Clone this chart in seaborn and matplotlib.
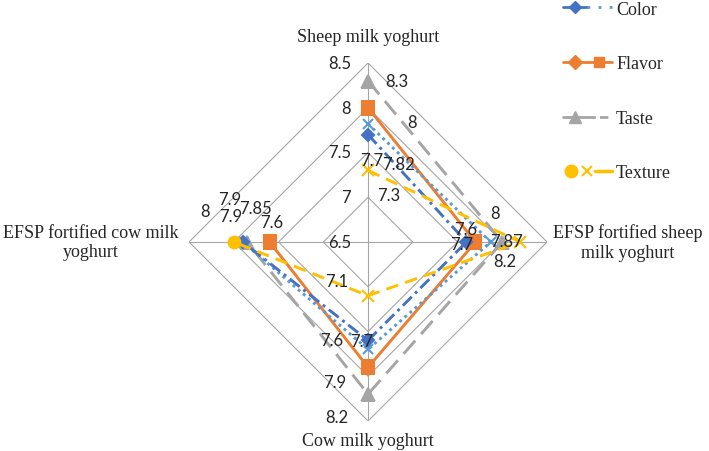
import numpy as np
import matplotlib.pyplot as plt
from matplotlib.lines import Line2D
from matplotlib.legend_handler import HandlerTuple
import seaborn as sns

# axes go clockwise from the top
categories = ["Sheep milk yoghurt", "EFSP fortified sheep\nmilk yoghurt",
              "Cow milk yoghurt", "EFSP fortified cow milk\nyoghurt"]
color_a = [7.7, 7.6, 7.6, 7.9]
color_b = [7.82, 7.87, 7.7, 7.9]
flavor = [8.0, 7.7, 7.9, 7.6]
taste = [8.3, 8.0, 8.2, 7.85]
texture = [7.3, 8.2, 7.1, 8.0]
levels = [6.5, 7, 7.5, 8, 8.5]
legend_labels = ["Color", "Flavor", "Taste", "Texture"]

sns.set_style("white")
plt.rcParams["font.family"] = ["Liberation Serif", "DejaVu Serif"]
NUM_FONT = "Lato"

BLUE, LBLUE, ORANGE, GREY, YELLOW = "#4472C4", "#5B9BD5", "#ED7D31", "#A5A5A5", "#FFC000"
GRID = "#A6A6A6"

fig = plt.figure(figsize=(7.09, 4.52), dpi=100)
ax = fig.add_axes([0.2666, 0.0664, 0.505, 0.792], projection="polar")
ax.set_theta_zero_location("N")
ax.set_theta_direction(-1)

theta = np.deg2rad([0, 90, 180, 270])
th = np.append(theta, theta[0])

def closed(v):
    return np.append(v, v[0])

# diamond grid and spokes
for lvl in levels:
    ax.plot(th, [lvl] * len(th), color=GRID, lw=0.8, zorder=1)
for a in theta:
    ax.plot([a, a], [levels[0], levels[-1]], color=GRID, lw=0.8, zorder=1)

# series styles and label offsets (pixels) for each axis point
series = [
    (taste, GREY, (0, (6, 3)), "^", 8,
     [(29, 0), (-7, 29), (-31, -23), (8, 34)]),
    (flavor, ORANGE, "-", "s", 8,
     [(44, -14), (-14, -2), (-33, -15), (2, 20)]),
    (color_b, LBLUE, (0, (1, 1.3)), "x", 7,
     [(30, -40), (16, 1), (-6, 8), (-12, 26)]),
    (color_a, BLUE, (0, (4.3, 1.6, 1, 1.6)), "D", 6.5,
     [(4, -25), (-1, 13), (-36, 0), (-13, 43)]),
    (texture, YELLOW, (0, (4.3, 2.5)), "x", 8,
     [(21, -25), (-15, -19), (-31, 15), (-29, 31)]),
]

for vals, c, ls, m, ms, offs in series:
    every = [0, 1, 2] if vals is texture else None
    sns.lineplot(x=th, y=closed(vals), sort=False, ax=ax, color=c,
                 linestyle=ls, lw=2.1, marker=m, markersize=ms,
                 markeredgecolor=c, markerfacecolor=c, markeredgewidth=1.5,
                 markevery=every, zorder=3)
    for a, v, off in zip(theta, vals, offs):
        ax.annotate(f"{v:g}", xy=(a, v), xytext=off, textcoords="offset pixels",
                    ha="center", va="center", fontsize=12, family=NUM_FONT,
                    zorder=5)

# texture point on the left axis uses a round marker
ax.plot(theta[3:4], texture[3:4], marker="o", ms=9, color=YELLOW, ls="none", zorder=4)

# radial scale labels along the top axis
for lvl in levels:
    ax.annotate(f"{lvl:g}", xy=(0, lvl), xytext=(-17, 0), textcoords="offset pixels",
                ha="right", va="center", fontsize=12, family=NUM_FONT)

# category labels
cat_offsets = [(0, 27), (81, 0), (0, -20), (-98, 0)]
for a, name, off in zip(theta, categories, cat_offsets):
    ax.annotate(name, xy=(a, levels[-1]), xytext=off, textcoords="offset pixels",
                ha="center", va="center", fontsize=13, multialignment="center",
                annotation_clip=False)

ax.set_ylim(levels[0], levels[-1])
ax.set_xticks([])
ax.set_yticks([])
ax.grid(False)
ax.spines["polar"].set_visible(False)
ax.set_xlabel("")
ax.set_ylabel("")
ax.patch.set_alpha(0)

handles = [
    (Line2D([], [], color=BLUE, lw=2, marker="D", ms=6),
     Line2D([], [], color=LBLUE, lw=2, ls=(0, (1, 3)))),
    (Line2D([], [], color=ORANGE, lw=2, marker="D", ms=7),
     Line2D([], [], color=ORANGE, lw=2, marker="s", ms=7)),
    (Line2D([], [], color=GREY, lw=2, marker="^", ms=8),
     Line2D([], [], color=GREY, lw=2, ls=(0, (3, 1.5)))),
    (Line2D([], [], color=YELLOW, lw=0, marker="o", ms=9),
     Line2D([], [], color=YELLOW, lw=0, marker="x", ms=7, mew=1.5),
     Line2D([], [], color=YELLOW, lw=2.5)),
]
fig.legend(handles, legend_labels, loc="upper left", bbox_to_anchor=(0.792, 1.0),
           frameon=False, fontsize=13, labelspacing=2.08, handlelength=2.67,
           handletextpad=0.25, borderpad=0.1, borderaxespad=0,
           handler_map={tuple: HandlerTuple(ndivide=None, pad=0)})

fig.savefig("out.png", dpi=100)
